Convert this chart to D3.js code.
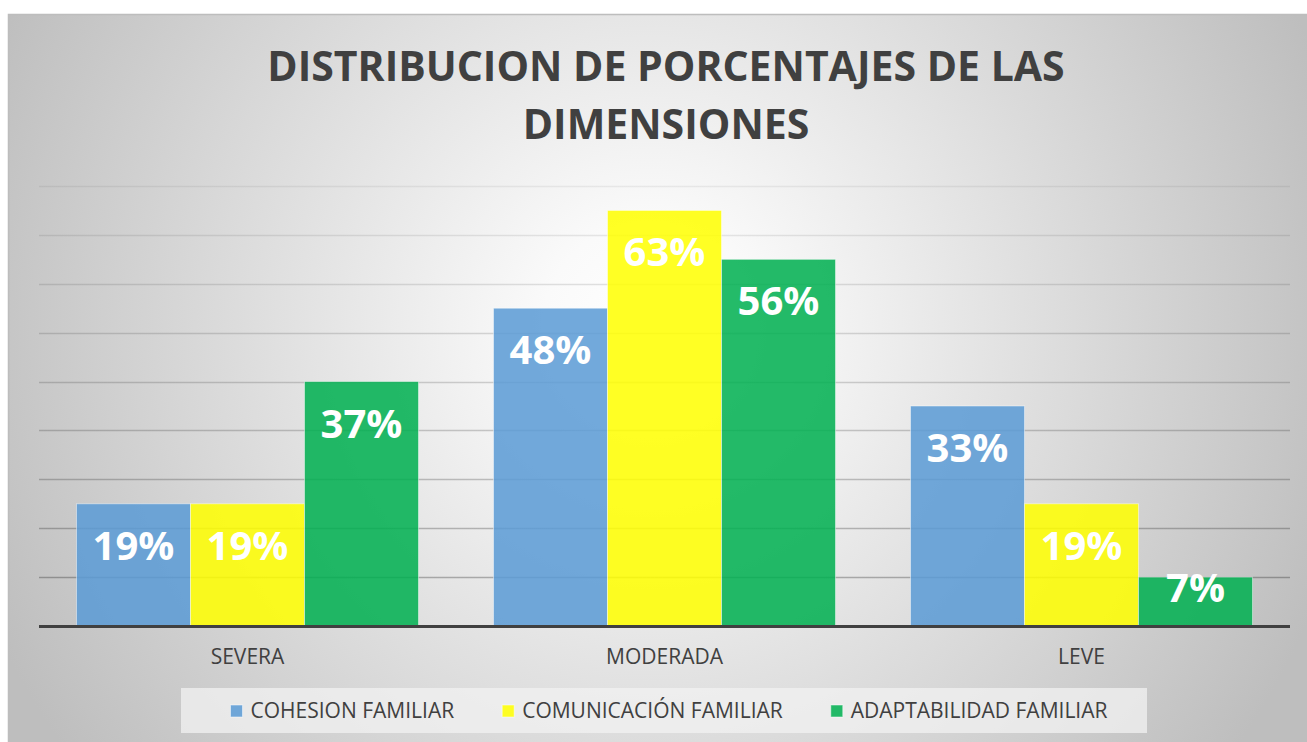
<!DOCTYPE html>
<html>
<head>
<meta charset="utf-8">
<script src="https://cdn.jsdelivr.net/npm/d3@7"></script>
<style>
  body { margin: 0; background: #ffffff; }
  text { font-family: "Open Sans", sans-serif; }
</style>
</head>
<body>
<div id="chart"></div>
<script>
// datos (conteo por nivel, n = 27)
var categorias = ["SEVERA", "MODERADA", "LEVE"]
var series = ["COHESION FAMILIAR", "COMUNICACIÓN FAMILIAR", "ADAPTABILIDAD FAMILIAR"]
var cohesion = [5, 13, 9]
var comunicacion = [5, 17, 5]
var adaptabilidad = [10, 15, 2]
var total = 27
var ticksY = [0, 2, 4, 6, 8, 10, 12, 14, 16, 18]
var colores = ["#5b9bd5", "#ffff00", "#00b050"]

var width = 1307
var height = 742

var valores = [cohesion, comunicacion, adaptabilidad]

var svg = d3.select("#chart")
    .append("svg")
        .attr("width", width)
        .attr("height", height);

var defs = svg.append("defs")

var bg = defs.append("radialGradient")
        .attr("id", "fondo")
        .attr("gradientUnits", "userSpaceOnUse")
        .attr("cx", 650)
        .attr("cy", 330)
        .attr("r", 720)
bg.append("stop").attr("offset", "0").attr("stop-color", "#ffffff")
bg.append("stop").attr("offset", "0.15").attr("stop-color", "#fafafa")
bg.append("stop").attr("offset", "1").attr("stop-color", "#bebebe")

var gridGrad = defs.append("linearGradient")
        .attr("id", "grid")
        .attr("gradientUnits", "userSpaceOnUse")
        .attr("x1", 0).attr("y1", 180)
        .attr("x2", 0).attr("y2", 630)
gridGrad.append("stop").attr("offset", "0").attr("stop-color", "#000").attr("stop-opacity", 0.06)
gridGrad.append("stop").attr("offset", "1").attr("stop-color", "#000").attr("stop-opacity", 0.3)

// fondo del area del grafico
svg.append("rect")
        .attr("x", 8)
        .attr("y", 14)
        .attr("width", width - 8)
        .attr("height", height - 14)
        .attr("fill", "url(#fondo)")
svg.append("path")
        .attr("d", "M8.5," + height + "V14.5H" + width)
        .attr("fill", "none")
        .attr("stroke", "#bdbdbd")
        .attr("stroke-width", 1.5)

// titulo
var titulo = svg.append("text")
        .attr("text-anchor", "middle")
        .attr("font-size", "41px")
        .attr("font-weight", 700)
        .attr("fill", "#404040")
titulo.append("tspan").attr("x", 666).attr("y", 81).text("DISTRIBUCION DE PORCENTAJES DE LAS")
titulo.append("tspan").attr("x", 666).attr("y", 139).text("DIMENSIONES")

// escalas
var x0 = d3.scaleBand()
    .domain(categorias)
    .range([39, 1290])

var x1 = d3.scaleBand()
    .domain(series)
    .range([0, x0.bandwidth()])
    .paddingOuter(0.329)

var y = d3.scaleLinear()
    .domain([0, 18])
    .range([626, 186])

// lineas de division
svg.append("g")
    .selectAll("line")
    .data(ticksY.slice(1))
    .enter()
    .append("line")
        .attr("x1", 39)
        .attr("x2", 1290)
        .attr("y1", function(d) { return Math.round(y(d)) + 0.5; })
        .attr("y2", function(d) { return Math.round(y(d)) + 0.5; })
        .attr("stroke", "url(#grid)")
        .attr("stroke-width", 1.5)

var datos = []
categorias.forEach(function(c, i) {
    series.forEach(function(s, j) {
        datos.push({cat: c, serie: s, idx: j, v: valores[j][i]})
    })
})

var fmt = d3.format(".0%")

var grupos = svg.append("g")
    .selectAll("g")
    .data(datos)
    .enter()
    .append("g")
        .attr("transform", function(d) { return "translate(" + (x0(d.cat) + x1(d.serie)) + ",0)"; })

grupos.append("rect")
        .attr("x", 0)
        .attr("y", function(d) { return y(d.v); })
        .attr("width", x1.bandwidth())
        .attr("height", function(d) { return y(0) - y(d.v); })
        .attr("fill", function(d) { return colores[d.idx]; })
        .attr("fill-opacity", 0.86)
        .attr("stroke", "#ffffff")
        .attr("stroke-opacity", 0.45)
        .attr("stroke-width", 1)

grupos.append("text")
        .attr("x", x1.bandwidth() / 2)
        .attr("y", function(d) { return Math.min(y(d.v) + 56, y(0) - 24); })
        .attr("text-anchor", "middle")
        .attr("font-size", "40px")
        .attr("font-weight", 700)
        .attr("fill", "#ffffff")
        .text(function(d) { return fmt(d.v / total); })

// eje x
svg.append("line")
        .attr("x1", 39)
        .attr("x2", 1290)
        .attr("y1", 626.5)
        .attr("y2", 626.5)
        .attr("stroke", "#404040")
        .attr("stroke-width", 3)

svg.append("g")
    .selectAll("text")
    .data(categorias)
    .enter()
    .append("text")
        .attr("x", function(d) { return x0(d) + x0.bandwidth() / 2; })
        .attr("y", 664)
        .attr("text-anchor", "middle")
        .attr("font-size", "21px")
        .attr("fill", "#404040")
        .text(function(d) { return d; })

// leyenda
svg.append("rect")
        .attr("x", 181)
        .attr("y", 688)
        .attr("width", 966)
        .attr("height", 45)
        .attr("fill", "#f2f2f2")
        .attr("fill-opacity", 0.75)

var leyenda = svg.append("g")
var items = leyenda.selectAll("g")
    .data(series)
    .enter()
    .append("g")

items.append("rect")
        .attr("width", 12)
        .attr("height", 12)
        .attr("y", 705)
        .attr("fill", function(d, i) { return colores[i]; })
        .attr("fill-opacity", 0.86)
        .attr("stroke", "#ffffff")
        .attr("stroke-opacity", 0.5)

items.append("text")
        .attr("x", 20)
        .attr("y", 718)
        .attr("font-size", "21px")
        .attr("fill", "#404040")
        .text(function(d) { return d; })

var anchos = []
items.each(function() { anchos.push(this.getBBox().width); })
var gap = 48
var totalAncho = d3.sum(anchos) + gap * (anchos.length - 1)
var pos = 669 - totalAncho / 2
items.attr("transform", function(d, i) {
    var p = pos
    pos += anchos[i] + gap
    return "translate(" + p + ",0)"
})
</script>
</body>
</html>
